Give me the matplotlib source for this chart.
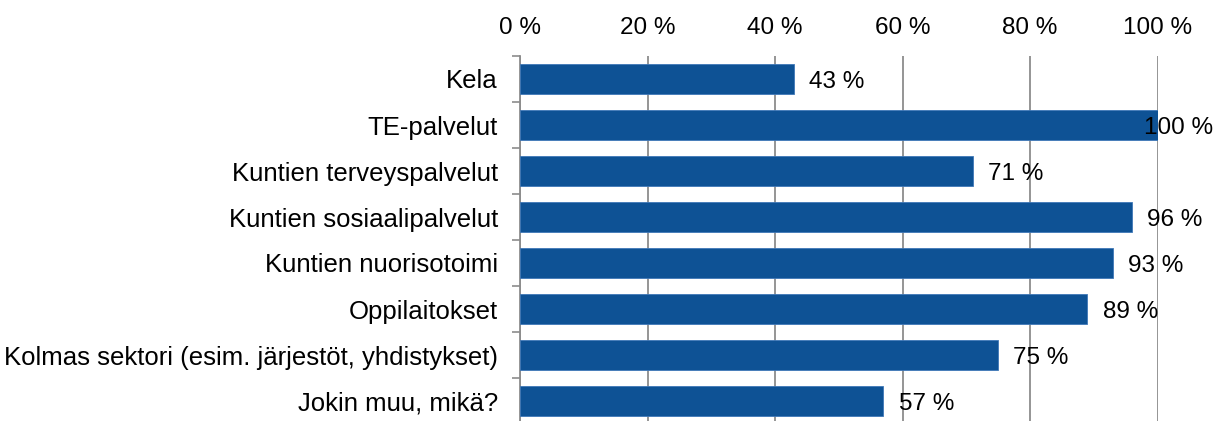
import numpy as np
import matplotlib.pyplot as plt
from matplotlib.ticker import FixedLocator

categories = ['Kela', 'TE-palvelut', 'Kuntien terveyspalvelut', 'Kuntien sosiaalipalvelut',
              'Kuntien nuorisotoimi', 'Oppilaitokset',
              'Kolmas sektori (esim. järjestöt, yhdistykset)', 'Jokin muu, mikä?']
values = [43, 100, 71, 96, 93, 89, 75, 57]
xticks = [0, 20, 40, 60, 80, 100]

plt.rcParams['font.family'] = ['Liberation Sans', 'DejaVu Sans']
fs = 17.5

fig = plt.figure(figsize=(12.2, 4.21), dpi=100)
ax = fig.add_axes([520/1220, 1 - 424/421, 637.5/1220, 368/421])

y = np.arange(len(categories))
ax.barh(y, values, height=0.65, color='#0E5295', edgecolor='#3f78b8', linewidth=0.6, zorder=3)

for yi, v in zip(y, values):
    if v >= 100:
        # no room on the right, push label back against the figure edge
        ax.annotate(f'{v} %', (1.0, yi), xycoords=('figure fraction', 'data'),
                    xytext=(-5, 0), textcoords='offset points',
                    va='center_baseline', ha='right', fontsize=fs, zorder=4)
    else:
        ax.annotate(f'{v} %', (v, yi), xytext=(11, 0), textcoords='offset points',
                    va='center_baseline', ha='left', fontsize=fs, zorder=4)

ax.set_xlim(0, 100)
ax.set_ylim(len(categories) - 0.5, -0.5)
ax.set_xticks(xticks)
ax.set_xticklabels([f'{t} %' for t in xticks], fontsize=fs)
ax.xaxis.tick_top()
ax.tick_params(axis='x', length=0, pad=12)
ax.grid(axis='x', color='#8c8c8c', linewidth=1.3, zorder=0)

ax.set_yticks(y)
ax.set_yticklabels(categories, fontsize=18.5)
ax.tick_params(axis='y', which='major', length=0, pad=16)
ax.yaxis.set_minor_locator(FixedLocator(np.arange(-0.5, len(categories), 1)))
ax.tick_params(axis='y', which='minor', length=6, width=1.2, color='#8c8c8c')

for s in ['top', 'right', 'bottom']:
    ax.spines[s].set_visible(False)
ax.spines['left'].set_color('#8c8c8c')
ax.spines['left'].set_linewidth(1.3)

fig.savefig('out.png', dpi=100)
